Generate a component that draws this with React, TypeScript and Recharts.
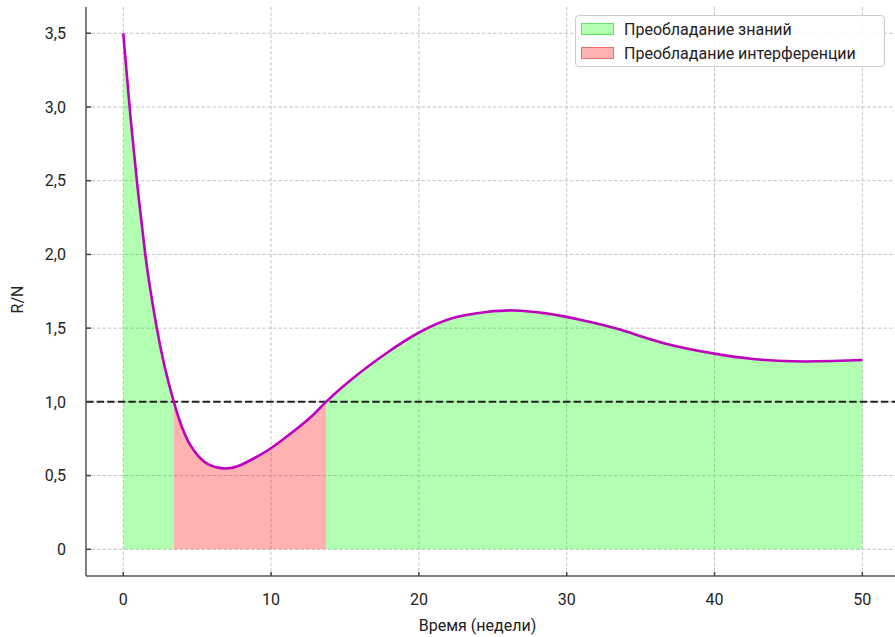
import React from "react";
import {
  Area,
  CartesianGrid,
  ComposedChart,
  Legend,
  Line,
  ReferenceLine,
  XAxis,
  YAxis,
} from "recharts";

const weeks = [
  0, 0.43, 0.92, 1.49, 1.85, 2.27, 2.8, 3.42, 3.95, 4.51, 5.08, 5.75, 6.77,
  7.78, 8.91, 10.04, 11.39, 12.75, 13.72, 15.56, 17.8, 19.95, 22.3, 24.6,
  26.4, 28.6, 30.9, 33.6, 36.5, 40, 42.6, 45.3, 48, 50,
];
const ratio = [
  3.5, 3.0, 2.5, 2.0, 1.75, 1.5, 1.24, 1.0, 0.835, 0.711, 0.632, 0.576, 0.549,
  0.565, 0.621, 0.689, 0.79, 0.903, 1.0, 1.162, 1.33, 1.467, 1.569, 1.61, 1.62,
  1.6, 1.557, 1.49, 1.4, 1.327, 1.291, 1.275, 1.277, 1.284,
];
const xTicks = [0, 10, 20, 30, 40, 50];
const yTicks = [0, 0.5, 1, 1.5, 2, 2.5, 3, 3.5];
const threshold = 1;

const knowledgeLabel = "Преобладание знаний";
const interferenceLabel = "Преобладание интерференции";

const data = weeks.map((t, i) => ({
  t,
  ratio: ratio[i],
  knowledge: ratio[i] >= threshold ? ratio[i] : null,
  interference: ratio[i] <= threshold ? ratio[i] : null,
}));

const swatch: Record<string, { bg: string; border: string }> = {
  knowledge: { bg: "rgba(0,255,0,0.3)", border: "rgba(0,200,0,0.45)" },
  interference: { bg: "rgba(255,0,0,0.3)", border: "rgba(220,0,0,0.4)" },
};

const tickStyle = { fill: "#222", fontSize: 16 };

function LegendBox({ payload }: any) {
  const items = (payload || []).filter((p: any) => p.type !== "none");
  return (
    <div
      style={{
        border: "1px solid #cccccc",
        borderRadius: 4,
        background: "rgba(255,255,255,0.85)",
        padding: "1px 5px",
        width: 298,
        fontSize: 16,
        color: "#222",
      }}
    >
      {items.map((p: any) => {
        const s = swatch[p.dataKey] || swatch.knowledge;
        return (
          <div
            key={p.dataKey}
            style={{ display: "flex", alignItems: "center", height: 24 }}
          >
            <span
              style={{
                display: "inline-block",
                width: 31,
                height: 10,
                background: s.bg,
                border: `1px solid ${s.border}`,
              }}
            />
            <span style={{ marginLeft: 10 }}>{p.value}</span>
          </div>
        );
      })}
    </div>
  );
}

const fmtY = (v: number) => (v === 0 ? "0" : v.toFixed(1).replace(".", ","));

export default function App() {
  return (
    <div style={{ width: 895, height: 637, fontFamily: "Roboto, sans-serif" }}>
      <style>{`body{margin:0}`}</style>
      <ComposedChart
        width={895}
        height={637}
        data={data}
        margin={{ top: 7, right: 0, bottom: 0, left: 0 }}
      >
        <CartesianGrid
          strokeDasharray="3.5 2"
          stroke="#c4c4c4"
          horizontalValues={yTicks}
          verticalValues={xTicks}
        />
        <XAxis
          dataKey="t"
          type="number"
          domain={[-2.52, 52.21]}
          ticks={xTicks}
          allowDataOverflow
          height={61}
          tick={tickStyle}
          tickSize={-4}
          tickMargin={22}
          axisLine={{ stroke: "#555", strokeWidth: 1.5 }}
          tickLine={{ stroke: "#444", strokeWidth: 1.5 }}
          label={{
            value: "Время (недели)",
            position: "insideBottom",
            offset: 6,
            dx: -13,
            fill: "#222",
            fontSize: 16,
          }}
        />
        <YAxis
          type="number"
          domain={[-0.181, 3.678]}
          ticks={yTicks}
          allowDataOverflow
          width={86}
          tick={tickStyle}
          tickFormatter={fmtY}
          tickSize={-5}
          tickMargin={25}
          axisLine={{ stroke: "#555", strokeWidth: 1.5 }}
          tickLine={{ stroke: "#444", strokeWidth: 1.5 }}
          label={{
            value: "R/N",
            angle: -90,
            position: "center",
            dx: -26,
            dy: 8,
            fill: "#222",
            fontSize: 16,
          }}
        />
        <Area
          dataKey="knowledge"
          name={knowledgeLabel}
          type="natural"
          baseValue={0}
          fill="#00ff00"
          fillOpacity={0.3}
          stroke="#00ff00"
          strokeOpacity={0.35}
          strokeWidth={1}
          isAnimationActive={false}
          activeDot={false}
        />
        <Area
          dataKey="interference"
          name={interferenceLabel}
          type="natural"
          baseValue={0}
          fill="#ff0000"
          fillOpacity={0.3}
          stroke="#ff0000"
          strokeOpacity={0.3}
          strokeWidth={1}
          isAnimationActive={false}
          activeDot={false}
        />
        <ReferenceLine
          y={threshold}
          stroke="#222"
          strokeWidth={2}
          strokeDasharray="7.4 3.2"
        />
        <Line
          dataKey="ratio"
          type="natural"
          stroke="#bf00bf"
          strokeWidth={2.6}
          dot={false}
          legendType="none"
          isAnimationActive={false}
        />
        <Legend
          layout="horizontal"
          verticalAlign="middle"
          align="center"
          content={<LegendBox />}
          wrapperStyle={{ top: 15, left: 575, width: 310 }}
        />
      </ComposedChart>
    </div>
  );
}
